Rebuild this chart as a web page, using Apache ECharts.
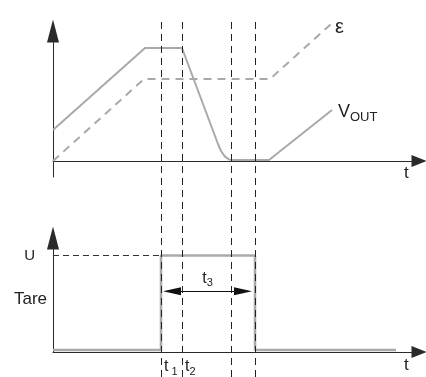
<!DOCTYPE html>
<html lang="en">

<head>
    <meta charset="UTF-8">
    <script src="https://cdn.jsdelivr.net/npm/echarts@6/dist/echarts.min.js"></script>
    <title>timing</title>
    <style>
        body { margin: 0; background: #fff; }
        #main { width: 426px; height: 377px; }
    </style>
</head>

<body>
    <div id="main"></div>

    <script type="text/javascript">
        // top panel: V_OUT and epsilon against time
        let vOutTime = [0, 23, 32.25, 41.25, 42, 43, 44, 45, 54, 69.75];
        let vOutLevel = [7.75, 28.25, 28.25, 4.25, 2.5, 1.1, 0.4, 0.25, 0.25, 12.75];
        let epsTime = [0, 22.75, 54.25, 69.5];
        let epsLevel = [0, 20.5, 20.5, 34.25];

        // bottom panel: the pulse
        let pulseTime = [0, 27, 27, 50.5, 50.5, 85.75];
        let pulseLevel = [0.02, 0.02, 1, 1, 0.02, 0.02];

        // dashed time markers (t1, t2, and the two ends of the settling window)
        let markerTimes = [27, 32.25, 44.5, 50.5];
        let markerLabels = { 27: 't1', 32.25: 't2' };
        let t3Span = [29.75, 47.5];
        let t3Level = 0.63;
        let levelLabels = { 1: 'U', 0.545: 'Tare' };

        let gray = '#a9a9a9';
        let ink = '#222';
        let font = 'Liberation Sans';

        let chart = echarts.init(document.getElementById('main'));

        function zip(xs, ys) {
            return xs.map(function (x, i) { return [x, ys[i]]; });
        }

        let arrowAxis = function (size, back) {
            return {
                show: true,
                onZero: true,
                symbol: ['none', 'triangle'],
                symbolSize: size,
                symbolOffset: [0, -back],
                lineStyle: { color: '#2a2a2a', width: 1 }
            };
        };

        let option = {
            animation: false,
            textStyle: { fontFamily: font, color: ink },
            grid: [
                { left: 53, width: 368, top: 31, height: 146 },
                { left: 53, width: 368, top: 238, height: 117 },
                { left: 53, width: 368, top: 17, height: 360 }
            ],
            xAxis: [
                {
                    type: 'value', gridIndex: 0, min: 0, max: 92,
                    axisLine: arrowAxis([12, 15], 2),
                    axisTick: { show: false }, axisLabel: { show: false }, splitLine: { show: false },
                    name: 't', nameLocation: 'end', nameGap: -17,
                    nameTextStyle: { fontSize: 17, color: ink, verticalAlign: 'top', padding: [4, 0, 0, 0] }
                },
                {
                    type: 'value', gridIndex: 1, min: 0, max: 92,
                    axisLine: arrowAxis([12, 15], 2),
                    axisTick: { show: false }, splitLine: { show: false },
                    axisLabel: {
                        show: true,
                        customValues: [27, 32.25],
                        align: 'left',
                        margin: 5,
                        formatter: function (v) {
                            let s = markerLabels[v] || '';
                            return '{t|' + s.charAt(0) + '}{s|' + (v === 27 ? ' ' : '') + s.slice(1) + '}';
                        },
                        rich: {
                            t: { fontSize: 16, color: ink, fontFamily: font, padding: [0, 0, 0, 3] },
                            s: { fontSize: 11, color: ink, fontFamily: font, padding: [9, 0, 0, 0] }
                        }
                    },
                    name: 't', nameLocation: 'end', nameGap: -17,
                    nameTextStyle: { fontSize: 17, color: ink, verticalAlign: 'top', padding: [5, 0, 0, 0] }
                },
                { type: 'value', gridIndex: 2, min: 0, max: 92, show: false }
            ],
            yAxis: [
                {
                    type: 'value', gridIndex: 0, min: -4, max: 32.5,
                    axisLine: arrowAxis([12, 23], 0),
                    axisTick: { show: false }, axisLabel: { show: false }, splitLine: { show: false }
                },
                {
                    type: 'value', gridIndex: 1, min: 0, max: 1.18,
                    axisLine: arrowAxis([12, 23], 0),
                    axisTick: { show: false }, splitLine: { show: false },
                    axisLabel: {
                        show: true,
                        customValues: [0.545, 1],
                        margin: 6,
                        formatter: function (v) {
                            return v === 1 ? '{u|' + levelLabels[1] + '}' : '{tare|' + levelLabels[0.545] + '}';
                        },
                        rich: {
                            u: { fontSize: 15, color: ink, fontFamily: font, padding: [0, 12, 0, 0] },
                            tare: { fontSize: 17, color: ink, fontFamily: font }
                        }
                    }
                },
                { type: 'value', gridIndex: 2, min: 0, max: 1, show: false }
            ],
            series: [
                {
                    name: 'eps', type: 'line', xAxisIndex: 0, yAxisIndex: 0,
                    data: zip(epsTime, epsLevel),
                    symbol: 'none', clip: false,
                    lineStyle: { color: gray, width: 2, type: [8, 6] },
                    endLabel: {
                        show: true, formatter: 'ε', distance: 4, offset: [0, 3],
                        fontSize: 20, color: ink, fontFamily: font
                    }
                },
                {
                    name: 'vout', type: 'line', xAxisIndex: 0, yAxisIndex: 0,
                    data: zip(vOutTime, vOutLevel),
                    symbol: 'none', clip: false,
                    lineStyle: { color: gray, width: 2 },
                    endLabel: {
                        show: true, distance: 6, offset: [0, 2],
                        formatter: '{v|V}{s|OUT}',
                        rich: {
                            v: { fontSize: 18, color: ink, fontFamily: font },
                            s: { fontSize: 13, color: ink, fontFamily: font, padding: [10, 0, 0, 0] }
                        }
                    }
                },
                {
                    name: 'pulse', type: 'line', xAxisIndex: 1, yAxisIndex: 1,
                    data: zip(pulseTime, pulseLevel),
                    symbol: 'none', clip: false,
                    lineStyle: { color: gray, width: 2.5 },
                    markLine: {
                        silent: true,
                        animation: false,
                        data: [
                            [
                                { coord: [0, 1], symbol: 'none', lineStyle: { color: '#333', width: 1, type: [6, 4] }, label: { show: false } },
                                { coord: [markerTimes[0], 1], symbol: 'none' }
                            ],
                            [
                                {
                                    coord: [t3Span[0], t3Level], symbol: 'triangle',
                                    itemStyle: { color: '#111' },
                                    lineStyle: { color: '#111', width: 1, type: 'solid' },
                                    label: {
                                        show: true, position: 'insideMiddleTop', distance: 3,
                                        formatter: '{t|t}{s|3}',
                                        rich: {
                                            t: { fontSize: 16, color: ink, fontFamily: font },
                                            s: { fontSize: 11, color: ink, fontFamily: font, padding: [9, 0, 0, 0] }
                                        }
                                    }
                                },
                                { coord: [t3Span[1], t3Level], symbol: 'triangle' }
                            ]
                        ],
                        symbolSize: [8, 18]
                    }
                },
                {
                    name: 'markers', type: 'line', xAxisIndex: 2, yAxisIndex: 2,
                    data: [],
                    markLine: {
                        silent: true,
                        animation: false,
                        symbol: 'none',
                        label: { show: false },
                        lineStyle: { color: '#222', width: 1, type: [7, 5] },
                        data: markerTimes.map(function (t) { return { xAxis: t }; })
                    }
                }
            ]
        };

        chart.setOption(option);
    </script>
</body>

</html>
